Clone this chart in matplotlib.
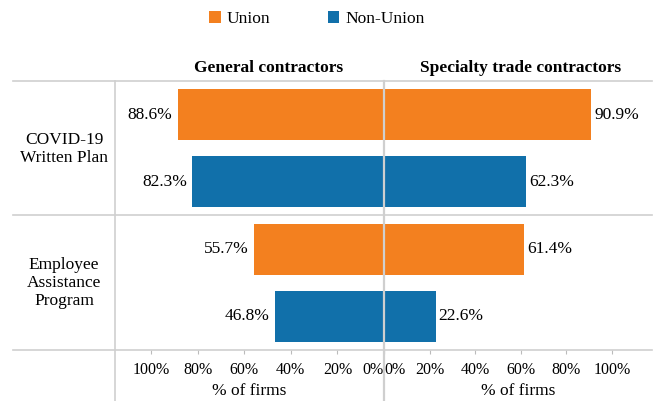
import matplotlib
matplotlib.use("Agg")
from matplotlib import pyplot as plt
from matplotlib.patches import Patch
from matplotlib.lines import Line2D

# --------- DATA ---------
groups = ["COVID-19\nWritten Plan", "Employee\nAssistance\nProgram"]
series = ["Union", "Non-Union"]
general = [88.6, 82.3, 55.7, 46.8]      # Union/Non-Union per group, top to bottom
specialty = [90.9, 62.3, 61.4, 22.6]
ticks = [0, 20, 40, 60, 80, 100]
colors = ["#F3801F", "#1170AA"]

W, H = 655, 401
plt.rcParams['font.family'] = ['Liberation Serif', 'DejaVu Serif']

def fx(px):
    return px / W

def fy(py):
    return 1 - py / H

fig = plt.figure(figsize=(W / 100, H / 100), dpi=100)

top, bottom, left_edge, center, right_edge = 81, 350, 115, 384, 652
axL = fig.add_axes([fx(left_edge), fy(bottom), fx(center) - fx(left_edge), fy(top) - fy(bottom)])
axR = fig.add_axes([fx(center), fy(bottom), fx(right_edge) - fx(center), fy(top) - fy(bottom)])

ypos = list(range(len(general)))
bar_colors = [colors[i % 2] for i in ypos]

axL.barh(ypos, general, height=0.76, color=bar_colors)
axR.barh(ypos, specialty, height=0.76, color=bar_colors)

fs = 12.5
for y, v in zip(ypos, general):
    axL.text(v + 2.2, y, "{0:.1f}%".format(v), ha="right", va="center", fontsize=fs)
for y, v in zip(ypos, specialty):
    axR.text(v + 1.3, y, "{0:.1f}%".format(v), ha="left", va="center", fontsize=fs)

axL.set_xlim(115.5, 0)
axR.set_xlim(0, 117.5)

for ax in (axL, axR):
    ax.set_ylim(3.5, -0.5)
    ax.set_yticks([])
    for s in ax.spines.values():
        s.set_visible(False)
    ax.set_xticks(ticks)
    ax.set_xticklabels(["{0}%".format(t) for t in ticks], fontsize=11.5)
    ax.tick_params(axis="x", length=3, width=0.8, color="#bbbbbb", pad=6)
    ax.set_xlabel("% of firms", fontsize=fs, labelpad=3)
    ax.patch.set_alpha(0)

axL.get_xticklabels()[0].set_ha("right")
axR.get_xticklabels()[0].set_ha("left")

# grid lines
grey = "#cfcfcf"
for py in (top, 215, bottom):
    fig.add_artist(Line2D([fx(13), fx(652)], [fy(py), fy(py)], color=grey, lw=1.2))
fig.add_artist(Line2D([fx(left_edge), fx(left_edge)], [fy(top), 0], color=grey, lw=1.2))
fig.add_artist(Line2D([fx(center), fx(center)], [fy(top), 0], color=grey, lw=1.6, zorder=5))

# headers
fig.text(fx(269), fy(68), "General contractors", ha="center", va="center", fontsize=fs, fontweight="bold")
fig.text(fx(521), fy(68), "Specialty trade contractors", ha="center", va="center", fontsize=fs, fontweight="bold")

# row labels
fig.text(fx(64), fy(149), groups[0], ha="center", va="center", fontsize=fs, linespacing=1.2)
fig.text(fx(64), fy(283), groups[1], ha="center", va="center", fontsize=fs, linespacing=1.2)

handles = [Patch(facecolor=c, edgecolor="none") for c in colors]
fig.legend(handles, series, loc="center", bbox_to_anchor=(fx(317), fy(19)), ncol=2, frameon=False,
           fontsize=fs, handlelength=0.65, handleheight=0.65, handletextpad=0.35, columnspacing=3.3)

fig.savefig("out.png", dpi=100)
